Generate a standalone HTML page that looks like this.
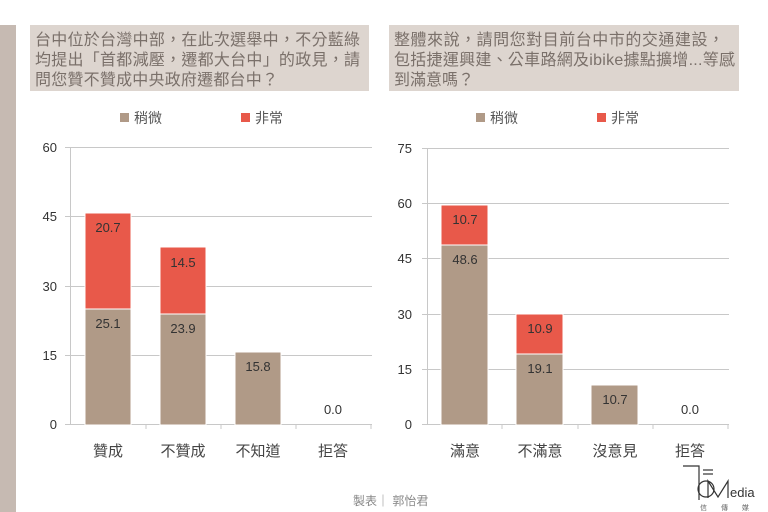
<!DOCTYPE html><html><head><meta charset="utf-8"><style>body{margin:0;background:#fff}svg{display:block}text{font-family:"Liberation Sans","Noto Sans CJK TC",sans-serif}</style></head><body>
<svg width="768" height="512" viewBox="0 0 768 512">
<rect x="0" y="25" width="16" height="487" fill="#c6bab2"/>
<rect x="30" y="25" width="339" height="66" fill="#ddd5cf"/>
<rect x="389" y="25" width="350" height="66" fill="#ddd5cf"/>
<g font-size="16" fill="#7a706a">
<text x="35" y="45" textLength="325" lengthAdjust="spacing">台中位於台灣中部，在此次選舉中，不分藍綠</text>
<text x="35" y="65" textLength="325" lengthAdjust="spacing">均提出「首都減壓，遷都大台中」的政見，請</text>
<text x="35" y="85" textLength="243" lengthAdjust="spacing">問您贊不贊成中央政府遷都台中？</text>
<text x="394" y="45" textLength="330" lengthAdjust="spacing">整體來說，請問您對目前台中市的交通建設，</text>
<text x="394" y="65" textLength="341" lengthAdjust="spacing">包括捷運興建、公車路網及ibike據點擴增...等感</text>
<text x="394" y="85" textLength="80" lengthAdjust="spacing">到滿意嗎？</text>
</g>
<g font-size="14" fill="#555">
<rect x="120" y="113" width="9" height="9" fill="#b09a87"/><text x="134" y="123">稍微</text>
<rect x="241" y="113" width="9" height="9" fill="#e8594a"/><text x="255" y="123">非常</text>
<rect x="476" y="113" width="9" height="9" fill="#b09a87"/><text x="490" y="123">稍微</text>
<rect x="597" y="113" width="9" height="9" fill="#e8594a"/><text x="611" y="123">非常</text>
</g>
<g stroke="#c8c8c8" stroke-width="1">
<line x1="65" y1="147.5" x2="372" y2="147.5"/><line x1="65" y1="216.5" x2="372" y2="216.5"/><line x1="65" y1="286.5" x2="372" y2="286.5"/><line x1="65" y1="355.5" x2="372" y2="355.5"/><line x1="65" y1="424.5" x2="372" y2="424.5"/>
<line x1="70.5" y1="147" x2="70.5" y2="425"/>
<line x1="146" y1="425" x2="146" y2="429"/><line x1="221" y1="425" x2="221" y2="429"/><line x1="296" y1="425" x2="296" y2="429"/><line x1="371" y1="425" x2="371" y2="429"/>
<line x1="422" y1="148.5" x2="729" y2="148.5"/><line x1="422" y1="203.5" x2="729" y2="203.5"/><line x1="422" y1="258.5" x2="729" y2="258.5"/><line x1="422" y1="314.5" x2="729" y2="314.5"/><line x1="422" y1="369.5" x2="729" y2="369.5"/><line x1="422" y1="424.5" x2="729" y2="424.5"/>
<line x1="427.5" y1="148" x2="427.5" y2="425"/>
<line x1="502" y1="425" x2="502" y2="429"/><line x1="578" y1="425" x2="578" y2="429"/><line x1="653" y1="425" x2="653" y2="429"/><line x1="728" y1="425" x2="728" y2="429"/>
</g>
<g font-size="13" fill="#333" text-anchor="end">
<text x="57" y="152">60</text><text x="57" y="221">45</text><text x="57" y="291">30</text><text x="57" y="360">15</text><text x="57" y="429">0</text>
<text x="412" y="153">75</text><text x="412" y="208">60</text><text x="412" y="263">45</text><text x="412" y="319">30</text><text x="412" y="374">15</text><text x="412" y="429">0</text>
</g>
<g stroke="#fff" stroke-width="1">
<rect x="85" y="309" width="46" height="116" fill="#b09a87"/><rect x="85" y="213" width="46" height="96" fill="#e8594a"/>
<rect x="160" y="314" width="46" height="111" fill="#b09a87"/><rect x="160" y="247" width="46" height="67" fill="#e8594a"/>
<rect x="235" y="352" width="46" height="73" fill="#b09a87"/>
<rect x="441" y="245" width="47" height="180" fill="#b09a87"/><rect x="441" y="205" width="47" height="40" fill="#e8594a"/>
<rect x="516" y="354" width="47" height="71" fill="#b09a87"/><rect x="516" y="314" width="47" height="40" fill="#e8594a"/>
<rect x="591" y="385" width="47" height="40" fill="#b09a87"/>
</g>
<g font-size="13" fill="#333" text-anchor="middle">
<text x="108" y="232">20.7</text><text x="108" y="328">25.1</text>
<text x="183" y="267">14.5</text><text x="183" y="333">23.9</text>
<text x="258" y="371">15.8</text><text x="333" y="414">0.0</text>
<text x="465" y="224">10.7</text><text x="465" y="264">48.6</text>
<text x="540" y="333">10.9</text><text x="540" y="373">19.1</text>
<text x="615" y="404">10.7</text><text x="690" y="414">0.0</text>
</g>
<g font-size="15" fill="#444" text-anchor="middle">
<text x="108" y="456">贊成</text><text x="183" y="456">不贊成</text><text x="258" y="456">不知道</text><text x="333" y="456">拒答</text>
<text x="465" y="456">滿意</text><text x="540" y="456">不滿意</text><text x="615" y="456">沒意見</text><text x="690" y="456">拒答</text>
</g>
<text x="353" y="505" font-size="12" fill="#888">製表｜ 郭怡君</text>
<g stroke="#333" fill="none" stroke-width="1.2">
<path d="M683 466H699V500"/><line x1="703" y1="470" x2="713" y2="470"/><line x1="703" y1="474" x2="713" y2="474"/>
<circle cx="706" cy="489" r="8"/><path d="M708 498V481L718 497L728 481V498"/>
</g>
<text x="730" y="497" font-size="13" fill="#333">edia</text>
<text x="700" y="510" font-size="7" fill="#666" letter-spacing="14">信傳媒</text>
</svg>
</body></html>
